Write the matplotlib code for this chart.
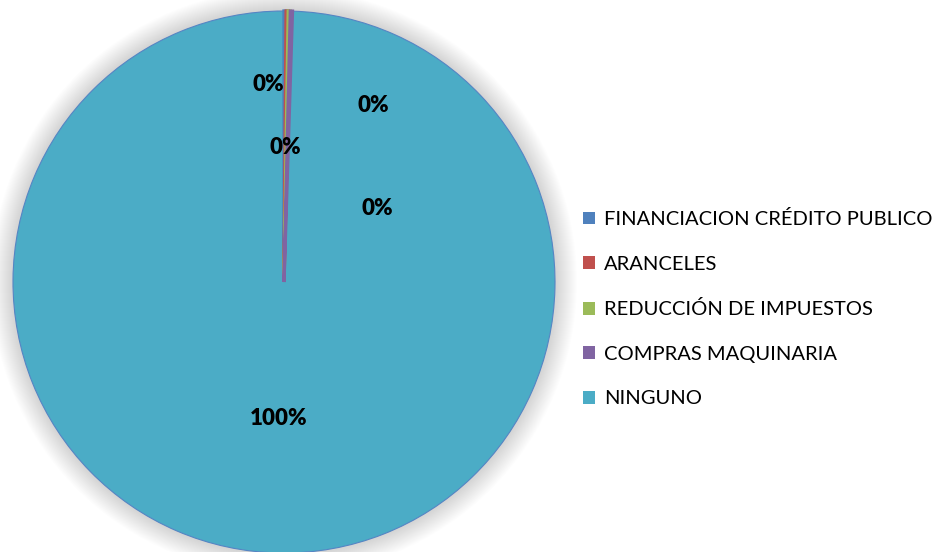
import matplotlib
matplotlib.use("Agg")
import matplotlib.pyplot as plt
from matplotlib.patches import Circle

categories = ["FINANCIACION CRÉDITO PUBLICO", "ARANCELES", "REDUCCIÓN DE IMPUESTOS",
              "COMPRAS MAQUINARIA", "NINGUNO"]
values = [1, 1, 1, 1, 800]
colors = ["#4F81BD", "#C0504D", "#9BBB59", "#8064A2", "#4BACC6"]
# label positions (relative to pie radius)
label_pos = [(-0.059, 0.727), (0.004, 0.498), (0.328, 0.653), (0.343, 0.273), (-0.018, -0.502)]

W, H = 936, 552
fig = plt.figure(figsize=(W / 100, H / 100), dpi=100)
fig.patch.set_facecolor("white")

cx, cy, r = 284, 282, 271
ax = fig.add_axes([(cx - r) / W, (H - cy - r) / H, 2 * r / W, 2 * r / H])

# soft outer shadow
n = 22
for k in range(n, 0, -1):
    ax.add_patch(Circle((0, 0), 1 + k * (1.0 / r), facecolor="black", edgecolor="none",
                        alpha=0.006, clip_on=False, zorder=0))

wedges, _ = ax.pie(values, colors=colors, startangle=90, counterclock=False,
                   radius=1.0)
for w, c in zip(wedges[:-1], colors[:-1]):
    w.set_edgecolor(c)
    w.set_linewidth(2.4)
    w.set_zorder(3)
wedges[-1].set_edgecolor("#5585c4")
wedges[-1].set_linewidth(0.8)
wedges[-1].set_zorder(2)
ax.set_xlim(-1, 1)
ax.set_ylim(-1, 1)
ax.set_aspect("equal")
ax.axis("off")

total = sum(values)
for v, (x, y) in zip(values, label_pos):
    ax.text(x, y, f"{round(100 * v / total):.0f}%", ha="center", va="center",
            fontsize=16, fontweight="heavy", family="Lato", color="black", zorder=5)

leg = fig.legend(wedges, categories, loc="upper left",
                 bbox_to_anchor=(575 / W, 1 - 202 / H), frameon=False,
                 prop=dict(family="Lato", size=14.5), handlelength=0.6, handleheight=0.6,
                 handletextpad=0.45, labelspacing=1.37, borderaxespad=0)
for h in leg.legend_handles:
    h.set_edgecolor("none")
    h.set_linewidth(0)

fig.savefig("out.png", dpi=100, facecolor="white")
